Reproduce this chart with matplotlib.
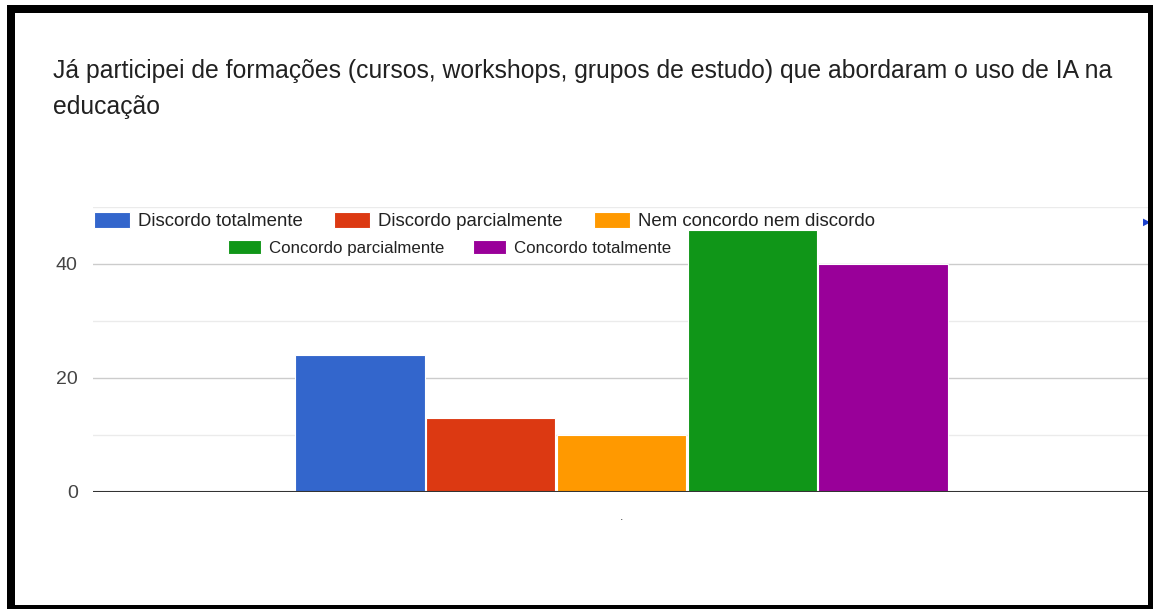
import matplotlib
matplotlib.use("Agg")
import matplotlib.pyplot as plt
from matplotlib.patches import Rectangle

# ---- data ----
title = ("Já participei de formações (cursos, workshops, grupos de estudo) que abordaram o uso de IA na\n"
         "educação")
series = ["Discordo totalmente", "Discordo parcialmente", "Nem concordo nem discordo",
          "Concordo parcialmente", "Concordo totalmente"]
values = [24, 13, 10, 46, 40]
colors = ["#3366cc", "#dc3912", "#ff9900", "#109618", "#990099"]
category_label = "."
yticks_major = [0, 20, 40]
yticks_minor = [10, 30, 50]

W, H = 1153, 609
plt.rcParams['font.family'] = ['Liberation Sans', 'DejaVu Sans']

fig = plt.figure(figsize=(W / 100, H / 100), dpi=100, facecolor="white")

# black frame (screenshot border)
fig.patches.append(Rectangle((7 / W, 0), 1 - 7 / W, (H - 5) / H, transform=fig.transFigure,
                             facecolor="black", edgecolor="none", zorder=-3))
fig.patches.append(Rectangle((15 / W, 4 / H), (1148 - 15) / W, 592 / H, transform=fig.transFigure,
                             facecolor="white", edgecolor="none", zorder=-2))

ax = fig.add_axes([93 / W, (H - 492) / H, (1150 - 93) / W, (492 - 207) / H])
ax.set_facecolor("none")

step = 0.1237
width = 0.1225
n = len(series)
bars = []
for i, (name, v, c) in enumerate(zip(series, values, colors)):
    b = ax.bar((i - (n - 1) / 2) * step, v, width=width, color=c, label=name,
               edgecolor="white", linewidth=0.8, zorder=3)
    bars.append(b)

ax.set_xlim(-0.5, 0.5)
ax.set_ylim(0, 50)
ax.set_yticks(yticks_major)
ax.set_yticks(yticks_minor, minor=True)
ax.grid(axis="y", which="major", color="#cccccc", linewidth=1, zorder=0)
ax.grid(axis="y", which="minor", color="#ebebeb", linewidth=1, zorder=0)
ax.axhline(0, color="#333333", linewidth=1.5, zorder=4)
for s in ax.spines.values():
    s.set_visible(False)
ax.tick_params(axis="y", which="both", length=0, pad=11, labelsize=14, labelcolor="#444444")
ax.set_xticks([0])
ax.set_xticklabels([category_label], fontsize=9, color="#444444")
ax.tick_params(axis="x", length=0, pad=14)

# title
fig.text(53 / W, 1 - 59 / H, title, ha="left", va="top", fontsize=17.8, color="#212121",
         linespacing=1.61)

# legends (two rows)
def legend_kw(fs, hl, hh, tp, cs):
    px = fs * 100 / 72
    return dict(frameon=False, fontsize=fs, handlelength=hl / px, handleheight=hh / px,
                handletextpad=tp / px, columnspacing=cs / px, borderpad=0, borderaxespad=0,
                labelcolor="#222222")

leg1 = fig.legend(handles=bars[:3], labels=series[:3], ncol=3, loc="center",
                  bbox_to_anchor=(484.5 / W, 1 - 221 / H), **legend_kw(13.4, 36, 17, 8, 31))
leg2 = fig.legend(handles=bars[3:], labels=series[3:], ncol=2, loc="center",
                  bbox_to_anchor=(449.5 / W, 1 - 248 / H), **legend_kw(12.2, 33, 16, 8, 28))

# legend paging arrow, mostly hidden by the border
fig.text(1147 / W, 1 - 222 / H, "▶", fontsize=7, color="#1a3fcc", ha="center", va="center",
         family="DejaVu Sans", zorder=5)

# right border on top
fig.patches.append(Rectangle((1148 / W, 0), 5 / W, (H - 5) / H, transform=fig.transFigure,
                             facecolor="black", edgecolor="none", zorder=10))

fig.savefig("out.png", dpi=100, facecolor="white")
